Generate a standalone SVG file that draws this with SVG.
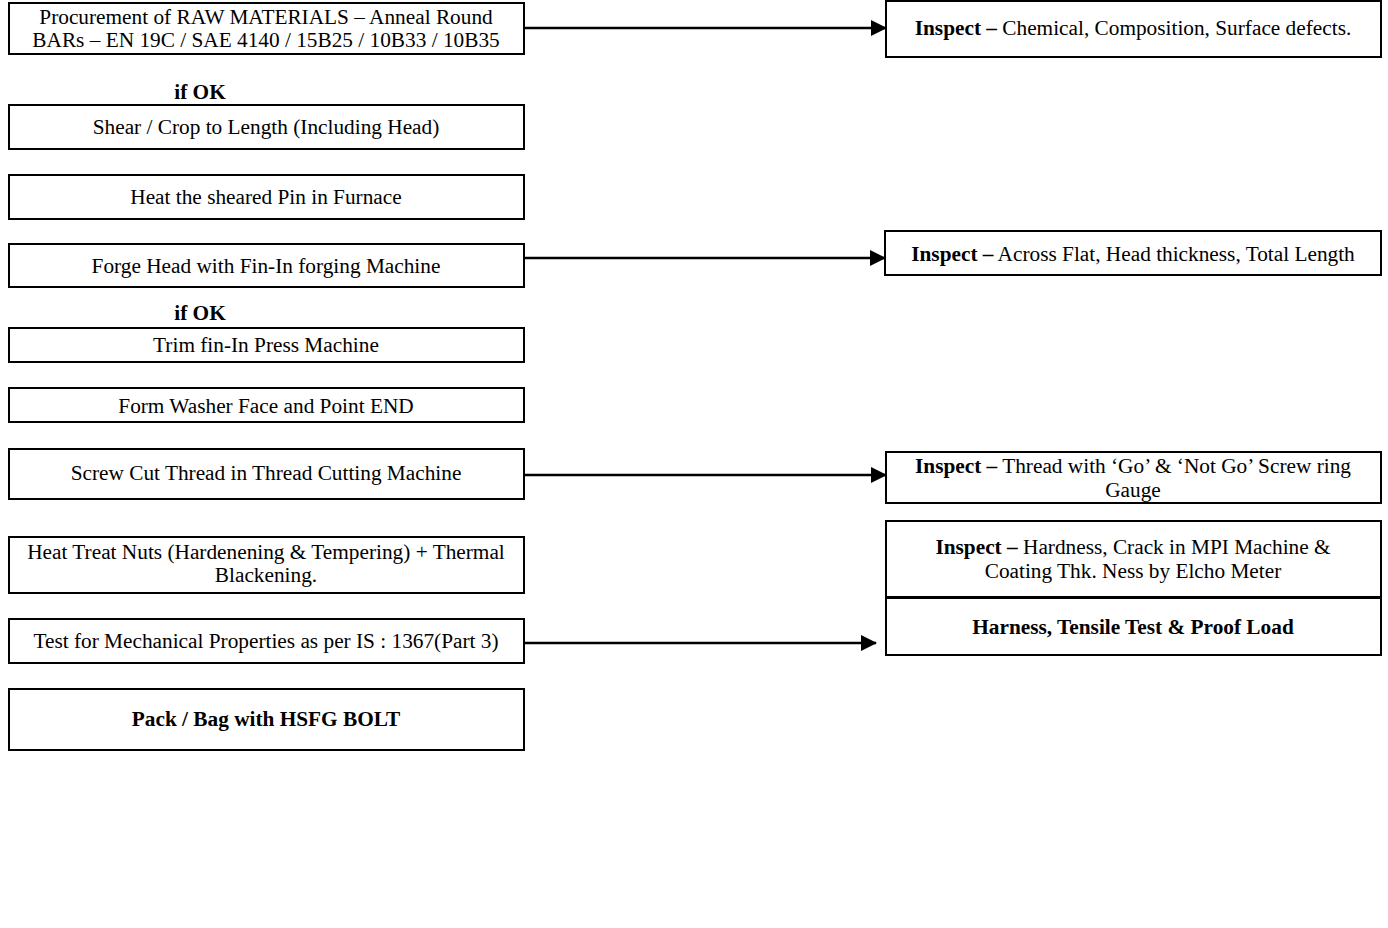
<svg xmlns="http://www.w3.org/2000/svg" width="1388" height="928" viewBox="0 0 1388 928">
<defs>
<style>
.box{fill:#fff;stroke:#000;stroke-width:2}
text{font-family:"Liberation Serif","Times New Roman",serif;font-size:21.3px;fill:#000;text-anchor:middle}
.b{font-weight:bold}
.con{stroke:#000;stroke-width:2.5;fill:none}
</style>
<marker id="ah" markerWidth="16" markerHeight="16" refX="15" refY="8" orient="auto" markerUnits="userSpaceOnUse">
<path d="M0,0 L16,8 L0,16 Z" fill="#000"/>
</marker>
</defs>
<rect width="1388" height="928" fill="#fff"/>
<g id="connectors">
<line class="con" x1="525" y1="28" x2="886" y2="28" marker-end="url(#ah)"/>
<line class="con" x1="525" y1="258" x2="885" y2="258" marker-end="url(#ah)"/>
<line class="con" x1="525" y1="475" x2="886" y2="475" marker-end="url(#ah)"/>
<line class="con" x1="525" y1="643" x2="876" y2="643" marker-end="url(#ah)"/>
</g>
<g id="n1"><rect class="box" x="9" y="3" width="515" height="51"/><text x="266" y="24">Procurement of RAW MATERIALS – Anneal Round</text><text x="266" y="47">BARs – EN 19C / SAE 4140 / 15B25 / 10B33 / 10B35</text></g>
<g id="ok1"><text class="b" x="200" y="99">if OK</text></g>
<g id="n2"><rect class="box" x="9" y="105" width="515" height="44"/><text x="266" y="134">Shear / Crop to Length (Including Head)</text></g>
<g id="n3"><rect class="box" x="9" y="175" width="515" height="44"/><text x="266" y="204">Heat the sheared Pin in Furnace</text></g>
<g id="n4"><rect class="box" x="9" y="244" width="515" height="43"/><text x="266" y="273">Forge Head with Fin-In forging Machine</text></g>
<g id="ok2"><text class="b" x="200" y="320">if OK</text></g>
<g id="n5"><rect class="box" x="9" y="328" width="515" height="34"/><text x="266" y="352">Trim fin-In Press Machine</text></g>
<g id="n6"><rect class="box" x="9" y="388" width="515" height="34"/><text x="266" y="413">Form Washer Face and Point END</text></g>
<g id="n7"><rect class="box" x="9" y="449" width="515" height="50"/><text x="266" y="480">Screw Cut Thread in Thread Cutting Machine</text></g>
<g id="n8"><rect class="box" x="9" y="537" width="515" height="56"/><text x="266" y="559">Heat Treat Nuts (Hardenening &amp; Tempering) + Thermal</text><text x="266" y="582">Blackening.</text></g>
<g id="n9"><rect class="box" x="9" y="619" width="515" height="44"/><text x="266" y="648">Test for Mechanical Properties as per IS : 1367(Part 3)</text></g>
<g id="n10"><rect class="box" x="9" y="689" width="515" height="61"/><text class="b" x="266" y="726">Pack / Bag with HSFG BOLT</text></g>
<g id="i1"><rect class="box" x="886" y="1" width="495" height="56"/><text x="1133" y="35"><tspan class="b">Inspect –</tspan> Chemical, Composition, Surface defects.</text></g>
<g id="i2"><rect class="box" x="885" y="231" width="496" height="44"/><text x="1133" y="261"><tspan class="b">Inspect –</tspan> Across Flat, Head thickness, Total Length</text></g>
<g id="i3"><rect class="box" x="886" y="452" width="495" height="51"/><text x="1133" y="473"><tspan class="b">Inspect –</tspan> Thread with ‘Go’ &amp; ‘Not Go’ Screw ring</text><text x="1133" y="497">Gauge</text></g>
<g id="i4"><rect class="box" x="886" y="521" width="495" height="76"/><text x="1133" y="554"><tspan class="b">Inspect –</tspan> Hardness, Crack in MPI Machine &amp;</text><text x="1133" y="578">Coating Thk. Ness by Elcho Meter</text></g>
<g id="i5"><rect class="box" x="886" y="598" width="495" height="57"/><text class="b" x="1133" y="634">Harness, Tensile Test &amp; Proof Load</text></g>
</svg>
